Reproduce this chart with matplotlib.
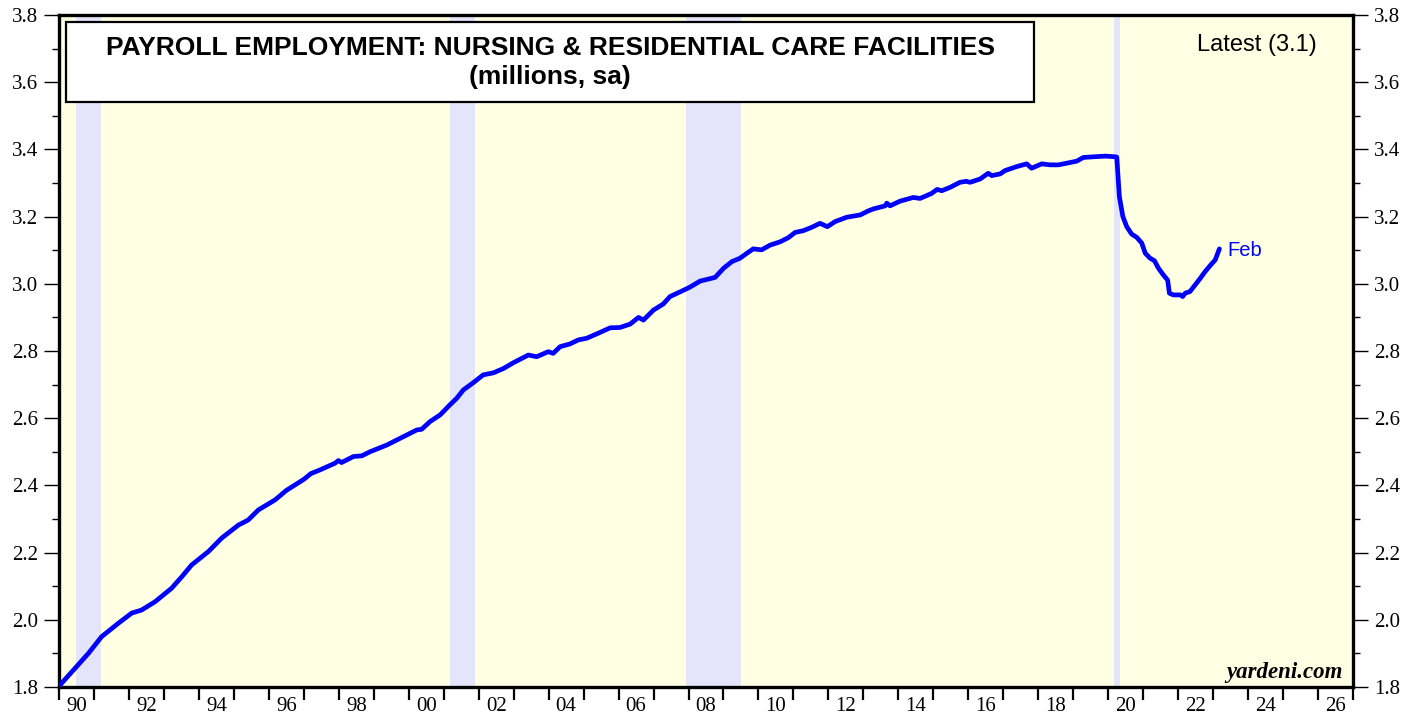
import numpy as np
import matplotlib
matplotlib.use("Agg")
import matplotlib.pyplot as plt
from matplotlib.patches import Rectangle
from matplotlib.ticker import FixedLocator, FixedFormatter, MultipleLocator

# ---------------- data (fractional years, millions) ----------------
years = [1990.03, 1990.46, 1990.84, 1991.22, 1991.70, 1992.08, 1992.36, 1992.75,
         1993.22, 1993.51, 1993.79, 1994.27, 1994.65, 1995.13, 1995.41, 1995.70,
         1996.18, 1996.50, 1996.80, 1997.00, 1997.20, 1997.46, 1997.89, 1997.99,
         1998.08, 1998.42, 1998.66, 1998.89, 1999.37, 1999.85, 2000.23, 2000.37,
         2000.61, 2000.90, 2001.18, 2001.37, 2001.56, 2001.85, 2002.13, 2002.42,
         2002.71, 2002.99, 2003.42, 2003.66, 2003.99, 2004.13, 2004.33, 2004.61,
         2004.85, 2005.09, 2005.42, 2005.76, 2006.04, 2006.33, 2006.57, 2006.71,
         2007.00, 2007.28, 2007.47, 2007.76, 2008.04, 2008.33, 2008.52, 2008.76,
         2009.00, 2009.24, 2009.47, 2009.67, 2009.85, 2010.09, 2010.33, 2010.62,
         2010.85, 2011.05, 2011.28, 2011.52, 2011.76, 2011.97, 2012.19, 2012.52,
         2012.91, 2013.14, 2013.29, 2013.62, 2013.67, 2013.76, 2014.05, 2014.43,
         2014.62, 2014.95, 2015.11, 2015.24, 2015.48, 2015.76, 2015.94, 2016.05,
         2016.34, 2016.57, 2016.67, 2016.91, 2017.05, 2017.39, 2017.67, 2017.81,
         2018.10, 2018.34, 2018.58, 2018.86, 2019.10, 2019.29, 2019.58, 2019.92,
         2020.21, 2020.245, 2020.32, 2020.42, 2020.53, 2020.67, 2020.82, 2020.96,
         2021.06, 2021.20, 2021.32, 2021.44, 2021.58, 2021.70, 2021.75, 2021.86,
         2022.06, 2022.13, 2022.20, 2022.34, 2022.48, 2022.63, 2022.77, 2022.93,
         2023.06, 2023.18]
employment = [1.806, 1.856, 1.900, 1.950, 1.990, 2.020, 2.029, 2.054,
              2.094, 2.128, 2.163, 2.203, 2.243, 2.282, 2.297, 2.327,
              2.357, 2.385, 2.405, 2.418, 2.435, 2.446, 2.466, 2.474,
              2.468, 2.486, 2.488, 2.500, 2.520, 2.545, 2.565, 2.567,
              2.590, 2.610, 2.640, 2.659, 2.684, 2.706, 2.729, 2.735,
              2.748, 2.765, 2.788, 2.783, 2.798, 2.793, 2.813, 2.821,
              2.833, 2.838, 2.853, 2.869, 2.870, 2.880, 2.900, 2.892,
              2.922, 2.940, 2.962, 2.976, 2.990, 3.008, 3.013, 3.019,
              3.046, 3.066, 3.076, 3.091, 3.104, 3.101, 3.115, 3.125,
              3.137, 3.153, 3.158, 3.168, 3.180, 3.170, 3.185, 3.198,
              3.205, 3.217, 3.223, 3.232, 3.240, 3.232, 3.246, 3.257,
              3.254, 3.269, 3.281, 3.277, 3.287, 3.302, 3.305, 3.302,
              3.312, 3.329, 3.322, 3.327, 3.337, 3.349, 3.357, 3.344,
              3.357, 3.354, 3.354, 3.360, 3.365, 3.376, 3.378, 3.380,
              3.378, 3.377, 3.259, 3.200, 3.170, 3.148, 3.138, 3.121,
              3.091, 3.076, 3.069, 3.046, 3.026, 3.011, 2.972, 2.967,
              2.967, 2.962, 2.972, 2.977, 2.996, 3.016, 3.036, 3.056,
              3.071, 3.104]

recession_starts = [1990.5, 2001.17, 2007.92, 2020.17]
recession_ends = [1991.2, 2001.9, 2009.5, 2020.33]

x_label_pos = [1990.5 + 2 * i for i in range(19)]
x_labels = ["90", "92", "94", "96", "98", "00", "02", "04", "06", "08",
            "10", "12", "14", "16", "18", "20", "22", "24", "26"]
y_ticks = [1.8, 2.0, 2.2, 2.4, 2.6, 2.8, 3.0, 3.2, 3.4, 3.6, 3.8]

title_line1 = "PAYROLL EMPLOYMENT: NURSING & RESIDENTIAL CARE FACILITIES"
title_line2 = "(millions, sa)"
latest_text = "Latest (3.1)"
end_label = "Feb"
source = "yardeni.com"

# ---------------- figure ----------------
W, H = 1421, 721
fig = plt.figure(figsize=(W / 100, H / 100), dpi=100)
fig.patch.set_facecolor("white")
L, R, T, B = 59, 1353, 15, 687
ax = fig.add_axes([L / W, 1 - B / H, (R - L) / W, (B - T) / H])
ax.set_facecolor("#FFFFE4")

for s, e in zip(recession_starts, recession_ends):
    ax.axvspan(s, e, color="#E4E4FA", lw=0, zorder=1)

ax.plot(years, employment, color="#0000FF", lw=3.4, zorder=3,
        solid_joinstyle="round", solid_capstyle="round")

ax.set_xlim(1990, 2027)
ax.set_ylim(1.8, 3.8)

for sp in ax.spines.values():
    sp.set_linewidth(2.4)
    sp.set_color("black")

serif = "Liberation Serif"
sans = "Liberation Sans"

# x ticks: years as major (no labels), labels at mid-even-years (minor)
ax.xaxis.set_major_locator(MultipleLocator(1))
ax.xaxis.set_major_formatter(FixedFormatter([]))
ax.xaxis.set_minor_locator(FixedLocator(x_label_pos))
ax.xaxis.set_minor_formatter(FixedFormatter(x_labels))
ax.tick_params(axis="x", which="major", direction="out", length=9, width=1.6,
               bottom=True, top=False, labelbottom=False)
ax.tick_params(axis="x", which="minor", length=0, pad=7, labelsize=15)

# y ticks both sides
ax.yaxis.set_major_locator(FixedLocator(y_ticks))
ax.yaxis.set_minor_locator(MultipleLocator(0.1))
ax.yaxis.set_major_formatter(FixedFormatter([f"{v:.1f}" for v in y_ticks]))
ax.tick_params(axis="y", which="major", direction="out", length=11, width=1.0,
               left=True, right=True, labelleft=True, labelright=True,
               labelsize=15, pad=4)
ax.tick_params(axis="y", which="minor", direction="out", length=5, width=1.0,
               left=True, right=True)

for lab in ax.get_xticklabels(minor=True):
    lab.set_fontfamily(serif)
for t in ax.yaxis.get_major_ticks():
    t.label1.set_fontfamily(serif)
    t.label2.set_fontfamily(serif)

# title box
bx0 = (66 - L) / (R - L)
bx1 = (1034 - L) / (R - L)
by0 = (B - 102) / (B - T)
by1 = (B - 22) / (B - T)
ax.add_patch(Rectangle((bx0, by0), bx1 - bx0, by1 - by0, transform=ax.transAxes,
                       facecolor="white", edgecolor="black", lw=1.6, zorder=5))
cx = (bx0 + bx1) / 2
ax.text(cx, (B - 48) / (B - T), title_line1, transform=ax.transAxes,
        ha="center", va="center", fontsize=19, fontweight="bold",
        family=sans, zorder=6)
ax.text(cx, (B - 77) / (B - T), title_line2, transform=ax.transAxes,
        ha="center", va="center", fontsize=19, fontweight="bold",
        family=sans, zorder=6)

ax.text((1257 - L) / (R - L), (B - 45) / (B - T), latest_text,
        transform=ax.transAxes, ha="center", va="center", fontsize=17,
        family=sans, zorder=6)

ax.text(years[-1] + 0.22, employment[-1] - 0.005, end_label, color="#0000FF",
        ha="left", va="center", fontsize=14.5, family=sans, zorder=6)

ax.text((1343 - L) / (R - L), (B - 678) / (B - T), source, transform=ax.transAxes,
        ha="right", va="baseline", fontsize=16.5, fontweight="bold",
        fontstyle="italic", family=serif, zorder=6)

fig.savefig("out.png", dpi=100, facecolor="white")
